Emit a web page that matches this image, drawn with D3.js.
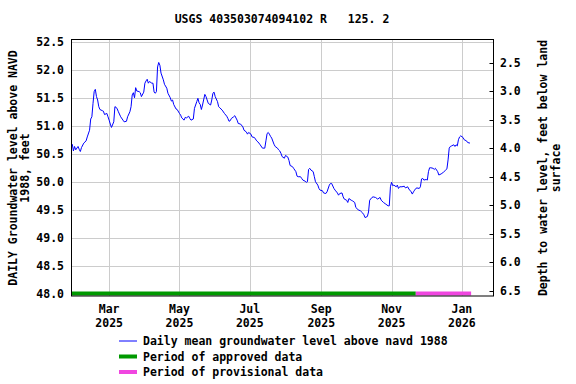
<!DOCTYPE html>
<html>
<head>
<meta charset="utf-8">
<script src="https://cdn.jsdelivr.net/npm/d3@7"></script>
<style>
  body { margin: 0; background: #fff; }
  text { font-family: "DejaVu Sans Mono", monospace; font-weight: bold; font-size: 11.5px; fill: #000; }
</style>
</head>
<body>
<svg id="chart" width="576" height="384"></svg>
<script>
const title = 'USGS 403503074094102 R   125. 2';

const dates = [
  '2025-01-27','2025-01-28','2025-01-29','2025-01-30','2025-01-31','2025-02-02','2025-02-03','2025-02-04','2025-02-05','2025-02-07',
  '2025-02-09','2025-02-10','2025-02-12','2025-02-13','2025-02-14','2025-02-15','2025-02-16','2025-02-17','2025-02-18','2025-02-19',
  '2025-02-20','2025-02-21','2025-02-23','2025-02-24','2025-02-25','2025-02-27','2025-02-28','2025-03-01','2025-03-02','2025-03-03',
  '2025-03-05','2025-03-06','2025-03-07','2025-03-08','2025-03-09','2025-03-11','2025-03-13','2025-03-14','2025-03-16','2025-03-17',
  '2025-03-19','2025-03-20','2025-03-21','2025-03-22','2025-03-23','2025-03-24','2025-03-25','2025-03-27','2025-03-28','2025-03-29',
  '2025-03-31','2025-04-01','2025-04-02','2025-04-03','2025-04-04','2025-04-05','2025-04-07','2025-04-08','2025-04-09','2025-04-10',
  '2025-04-11','2025-04-12','2025-04-13','2025-04-14','2025-04-15','2025-04-17','2025-04-18','2025-04-20','2025-04-21','2025-04-23',
  '2025-04-24','2025-04-25','2025-04-26','2025-04-28','2025-04-29','2025-05-01','2025-05-02','2025-05-03','2025-05-05','2025-05-06',
  '2025-05-07','2025-05-09','2025-05-10','2025-05-11','2025-05-13','2025-05-14','2025-05-16','2025-05-17','2025-05-18','2025-05-19',
  '2025-05-20','2025-05-21','2025-05-23','2025-05-24','2025-05-25','2025-05-26','2025-05-28','2025-05-29','2025-05-30','2025-05-31',
  '2025-06-01','2025-06-03','2025-06-04','2025-06-05','2025-06-07','2025-06-09','2025-06-11','2025-06-12','2025-06-13','2025-06-14',
  '2025-06-15','2025-06-17','2025-06-18','2025-06-20','2025-06-21','2025-06-23','2025-06-25','2025-06-26','2025-06-28','2025-06-29',
  '2025-06-30','2025-07-02','2025-07-03','2025-07-05','2025-07-07','2025-07-09','2025-07-10','2025-07-12','2025-07-14','2025-07-15',
  '2025-07-16','2025-07-17','2025-07-18','2025-07-19','2025-07-20','2025-07-22','2025-07-23','2025-07-25','2025-07-26','2025-07-27',
  '2025-07-28','2025-07-29','2025-07-31','2025-08-01','2025-08-03','2025-08-04','2025-08-05','2025-08-07','2025-08-08','2025-08-10',
  '2025-08-11','2025-08-12','2025-08-14','2025-08-15','2025-08-16','2025-08-18','2025-08-19','2025-08-20','2025-08-21','2025-08-22',
  '2025-08-23','2025-08-25','2025-08-26','2025-08-27','2025-08-29','2025-08-30','2025-08-31','2025-09-02','2025-09-03','2025-09-05',
  '2025-09-06','2025-09-08','2025-09-09','2025-09-10','2025-09-12','2025-09-13','2025-09-15','2025-09-16','2025-09-17','2025-09-19',
  '2025-09-20','2025-09-21','2025-09-23','2025-09-24','2025-09-25','2025-09-27','2025-09-28','2025-09-30','2025-10-01','2025-10-03',
  '2025-10-05','2025-10-07','2025-10-08','2025-10-09','2025-10-11','2025-10-12','2025-10-13','2025-10-15','2025-10-16','2025-10-18',
  '2025-10-20','2025-10-22','2025-10-23','2025-10-25','2025-10-27','2025-10-29','2025-10-30','2025-10-31','2025-11-01','2025-11-02',
  '2025-11-03','2025-11-05','2025-11-06','2025-11-07','2025-11-08','2025-11-10','2025-11-12','2025-11-13','2025-11-15','2025-11-16',
  '2025-11-18','2025-11-19','2025-11-20','2025-11-21','2025-11-22','2025-11-23','2025-11-25','2025-11-26','2025-11-27','2025-11-28',
  '2025-11-29','2025-12-01','2025-12-02','2025-12-03','2025-12-04','2025-12-05','2025-12-07','2025-12-08','2025-12-09','2025-12-11',
  '2025-12-12','2025-12-14','2025-12-16','2025-12-18','2025-12-19','2025-12-20','2025-12-21','2025-12-22','2025-12-23','2025-12-25',
  '2025-12-26','2025-12-27','2025-12-28','2025-12-29','2025-12-30','2025-12-31','2026-01-02','2026-01-03','2026-01-05','2026-01-06',
  '2026-01-08'
];

const levels = [
  50.70,50.68,50.56,50.64,50.58,50.64,50.59,50.55,50.62,50.70,
  50.74,50.81,50.93,51.13,51.17,51.41,51.62,51.66,51.53,51.47,
  51.35,51.30,51.28,51.27,51.21,51.23,51.17,51.11,51.04,50.98,
  51.08,51.35,51.34,51.31,51.26,51.17,51.11,51.08,51.09,51.17,
  51.26,51.35,51.56,51.60,51.51,51.69,51.63,51.62,51.60,51.53,
  51.61,51.77,51.81,51.84,51.77,51.80,51.77,51.77,51.61,51.59,
  51.62,52.06,52.14,52.09,51.95,51.83,51.75,51.68,51.59,51.51,
  51.45,51.47,51.39,51.31,51.30,51.23,51.20,51.15,51.11,51.16,
  51.15,51.18,51.14,51.11,51.13,51.32,51.44,51.50,51.42,51.39,
  51.30,51.38,51.57,51.53,51.47,51.41,51.38,51.47,51.59,51.61,
  51.53,51.44,51.35,51.33,51.29,51.23,51.18,51.14,51.09,51.10,
  51.14,51.17,51.19,51.11,51.05,51.04,50.99,50.93,50.90,50.86,
  50.89,50.86,50.81,50.80,50.74,50.70,50.67,50.61,50.61,50.74,
  50.87,50.89,50.86,50.82,50.79,50.68,50.64,50.61,50.58,50.56,
  50.52,50.46,50.43,50.48,50.45,50.39,50.30,50.28,50.25,50.19,
  50.11,50.10,50.10,50.07,50.04,50.02,50.00,50.01,50.23,50.25,
  50.22,50.19,50.10,50.01,49.95,49.89,49.86,49.85,49.81,49.80,
  49.83,49.95,49.98,49.98,49.89,49.86,49.81,49.77,49.80,49.81,
  49.74,49.70,49.68,49.64,49.71,49.68,49.67,49.64,49.55,49.51,
  49.49,49.45,49.42,49.37,49.39,49.47,49.68,49.73,49.74,49.73,
  49.70,49.73,49.68,49.64,49.61,49.58,49.58,49.92,50.00,49.94,
  49.95,49.92,49.95,49.89,49.92,49.92,49.93,49.90,49.92,49.88,
  49.83,49.79,49.83,49.86,49.89,49.90,49.89,49.92,50.06,50.07,
  50.04,50.05,50.04,50.19,50.26,50.26,50.25,50.23,50.25,50.19,
  50.13,50.15,50.18,50.22,50.24,50.40,50.61,50.64,50.65,50.67,
  50.64,50.67,50.65,50.76,50.81,50.83,50.80,50.76,50.74,50.71,
  50.70
];

const approvedPeriod = ['2025-01-27', '2025-11-22'];
const provisionalPeriod = ['2025-11-22', '2026-01-09'];

const levelTicks = [48.0, 48.5, 49.0, 49.5, 50.0, 50.5, 51.0, 51.5, 52.0, 52.5];
const depthTicks = [2.5, 3.0, 3.5, 4.0, 4.5, 5.0, 5.5, 6.0, 6.5];
const monthTicks = ['2025-03-01', '2025-05-01', '2025-07-01', '2025-09-01', '2025-11-01', '2026-01-01'];

const leftTitle = ['DAILY Groundwater level above NAVD', '1988, feet'];
const rightTitle = ['Depth to water level, feet below land', 'surface'];
const legendLabels = [
  'Daily mean groundwater level above navd 1988',
  'Period of approved data',
  'Period of provisional data'
];

const lineColor = '#0000ff';
const approvedColor = '#009900';
const provisionalColor = '#f046e0';

const parse = d3.timeParse('%Y-%m-%d');
const plotLeft = 71.5, plotRight = 493.5, plotTop = 39.5, plotBottom = 296;

const x = d3.scaleTime()
  .domain([new Date(2025, 0, 27, 8), new Date(2026, 0, 28, 10)])
  .range([plotLeft, plotRight]);
const y = d3.scaleLinear().domain([47.97, 52.55]).range([plotBottom, plotTop]);
const yDepth = d3.scaleLinear().domain([2.5, 6.5]).range([62.5, 291]);

const svg = d3.select('#chart');

// grid
svg.append('g').selectAll('line')
  .data(levelTicks.slice(1))
  .join('line')
  .attr('x1', plotLeft).attr('x2', plotRight)
  .attr('y1', (d) => Math.round(y(d)) + 0.5).attr('y2', (d) => Math.round(y(d)) + 0.5)
  .attr('stroke', '#cccccc');
svg.append('g').selectAll('line')
  .data(monthTicks)
  .join('line')
  .attr('x1', (d) => Math.round(x(parse(d))) + 0.5).attr('x2', (d) => Math.round(x(parse(d))) + 0.5)
  .attr('y1', plotTop).attr('y2', plotBottom)
  .attr('stroke', '#cccccc');

// approval bars
[[approvedPeriod, approvedColor], [provisionalPeriod, provisionalColor]].forEach(([p, c]) => {
  svg.append('rect')
    .attr('x', x(parse(p[0])))
    .attr('width', x(parse(p[1])) - x(parse(p[0])))
    .attr('y', plotBottom - 4.5)
    .attr('height', 4)
    .attr('fill', c);
});

// data line
const series = dates.map((d, i) => ({ date: parse(d), value: levels[i] }));
svg.append('path')
  .datum(series)
  .attr('fill', 'none')
  .attr('stroke', lineColor)
  .attr('stroke-width', 1)
  .attr('d', d3.line().x((d) => x(d.date)).y((d) => y(d.value)));

// frame
svg.append('rect')
  .attr('x', plotLeft).attr('y', plotTop)
  .attr('width', plotRight - plotLeft).attr('height', plotBottom - plotTop)
  .attr('fill', 'none').attr('stroke', '#000');

// left tick labels
svg.append('g').selectAll('text')
  .data(levelTicks)
  .join('text')
  .attr('x', 64)
  .attr('y', (d) => y(d) + 4)
  .attr('text-anchor', 'end')
  .text((d) => d.toFixed(1));

// right ticks + labels
svg.append('g').selectAll('line')
  .data(depthTicks)
  .join('line')
  .attr('x1', plotRight - 4).attr('x2', plotRight)
  .attr('y1', (d) => Math.round(yDepth(d)) + 0.5).attr('y2', (d) => Math.round(yDepth(d)) + 0.5)
  .attr('stroke', '#000');
svg.append('g').selectAll('text')
  .data(depthTicks)
  .join('text')
  .attr('x', 500)
  .attr('y', (d) => yDepth(d) + 4)
  .text((d) => d.toFixed(1));

// month labels
const months = svg.append('g').selectAll('text')
  .data(monthTicks)
  .join('text')
  .attr('text-anchor', 'middle')
  .attr('y', 313);
months.append('tspan')
  .attr('x', (d) => x(parse(d)))
  .text((d) => d3.timeFormat('%b')(parse(d)));
months.append('tspan')
  .attr('x', (d) => x(parse(d)))
  .attr('dy', 14)
  .text((d) => d3.timeFormat('%Y')(parse(d)));

// title
svg.append('text')
  .attr('x', 282).attr('y', 23)
  .attr('text-anchor', 'middle')
  .style('white-space', 'pre')
  .text(title);

// axis titles
leftTitle.forEach((t, i) => {
  svg.append('text')
    .attr('transform', `translate(${17 + i * 12},168) rotate(-90)`)
    .attr('text-anchor', 'middle')
    .text(t);
});
rightTitle.forEach((t, i) => {
  svg.append('text')
    .attr('transform', `translate(${547 + i * 13},168) rotate(-90)`)
    .attr('text-anchor', 'middle')
    .text(t);
});

// legend
const legendColors = [lineColor, approvedColor, provisionalColor];
const legend = svg.append('g');
legendLabels.forEach((label, i) => {
  const ly = 341 + i * 15.5;
  legend.append('line')
    .attr('x1', 119).attr('x2', 137)
    .attr('y1', ly).attr('y2', ly)
    .attr('stroke', legendColors[i])
    .attr('stroke-width', i === 0 ? 1 : 4);
  legend.append('text')
    .attr('x', 143).attr('y', ly + 4)
    .text(label);
});
</script>
</body>
</html>
